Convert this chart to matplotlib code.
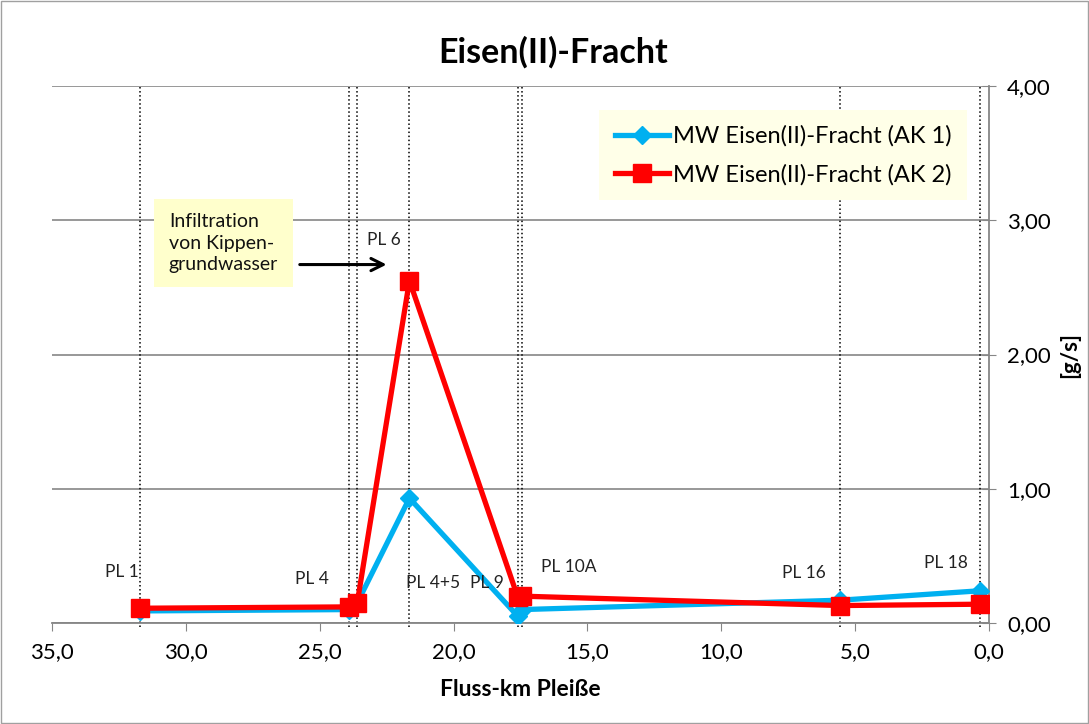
import matplotlib.pyplot as plt
from matplotlib.patches import Rectangle

plt.rcParams['font.family'] = ['Lato', 'DejaVu Sans']

# Fluss-km der Messstellen
km = [31.7, 23.9, 23.6, 21.65, 17.6, 17.45, 5.55, 0.35]
ak1 = [0.09, 0.10, 0.15, 0.93, 0.05, 0.10, 0.17, 0.24]
ak2 = [0.11, 0.12, 0.15, 2.55, 0.19, 0.20, 0.13, 0.14]

# vertikale Hilfslinien
linien_km = [31.7, 23.9, 23.6, 21.65, 17.6, 17.45, 5.55, 0.35]

# Beschriftungen der Messstellen (x in km, y in g/s)
pl_namen = ['PL 1', 'PL 4', 'PL 4+5', 'PL 9', 'PL 10A', 'PL 16', 'PL 18', 'PL 6']
pl_x = [32.4, 25.3, 20.75, 18.75, 15.7, 6.9, 1.6, 22.6]
pl_y = [0.38, 0.33, 0.30, 0.30, 0.42, 0.37, 0.45, 2.85]

fig = plt.figure(figsize=(10.89, 7.24), dpi=100)
ax = fig.add_axes([0.0478, 0.1395, 0.8604, 0.7417])

for x in linien_km:
    ax.axvline(x, ymin=-0.008, ymax=1.0, color='black', linestyle=':', linewidth=1.1, zorder=1, clip_on=False)

ax.plot(km, ak1, color='#00B0F0', linewidth=3.8, marker='D', markersize=9,
        label='MW Eisen(II)-Fracht (AK 1)', zorder=3)
ax.plot(km, ak2, color='#FF0000', linewidth=3.8, marker='s', markersize=13,
        label='MW Eisen(II)-Fracht (AK 2)', zorder=4)

ax.set_xlim(35, 0)
ax.set_ylim(0, 4)
ax.set_xticks([35, 30, 25, 20, 15, 10, 5, 0])
ax.set_xticklabels(['35,0', '30,0', '25,0', '20,0', '15,0', '10,0', '5,0', '0,0'], fontsize=16)
ax.set_yticks([0, 1, 2, 3, 4])
ax.set_yticklabels(['0,00', '1,00', '2,00', '3,00', '4,00'], fontsize=16)
ax.yaxis.tick_right()
ax.yaxis.set_label_position('right')
ax.tick_params(axis='y', direction='inout', length=10, color='#868686', pad=8)
ax.tick_params(axis='x', direction='out', length=6, color='#868686', pad=8)

ax.grid(axis='y', color='#868686', linewidth=1.2)
ax.set_axisbelow(True)
for s in ['left', 'top']:
    ax.spines[s].set_visible(False)
for s in ['right', 'bottom']:
    ax.spines[s].set_color('#868686')
    ax.spines[s].set_linewidth(1.3)

fig.text(0.508, 0.928, 'Eisen(II)-Fracht', fontsize=24.5, fontweight='bold', ha='center', va='center')
ax.set_xlabel('Fluss-km Pleiße', fontsize=16.5, fontweight='bold', labelpad=12)
ax.set_ylabel('[g/s]', fontsize=16, fontweight='bold', labelpad=6)

for name, x, y in zip(pl_namen, pl_x, pl_y):
    ax.text(x, y, name, fontsize=12.5, ha='center', va='center', color='#222222', zorder=5)

ax.text(28.6, 2.83, 'Infiltration\nvon Kippen-\ngrundwasser', fontsize=14, ha='center', va='center',
        multialignment='left', linespacing=1.3, zorder=6, color='#111111',
        bbox=dict(boxstyle='square,pad=0.75', facecolor='#FFFFCC', edgecolor='none'))
ax.annotate('', xy=(22.4, 2.67), xytext=(25.85, 2.67),
            arrowprops=dict(arrowstyle='->', color='black', lw=2.2, mutation_scale=22), zorder=6)

leg = ax.legend(loc='upper right', bbox_to_anchor=(0.976, 0.955), fontsize=17, frameon=True,
                fancybox=False, framealpha=1, borderpad=0.65, labelspacing=0.7,
                handlelength=2.3, handletextpad=0.15, borderaxespad=0)
leg.get_frame().set_facecolor('#FFFFE8')
leg.get_frame().set_edgecolor('none')

fig.patches.append(Rectangle((0.001, 0.001), 0.998, 0.997, transform=fig.transFigure,
                             fill=False, edgecolor='#A0A0A0', linewidth=1))

fig.savefig('out.png', dpi=100)
